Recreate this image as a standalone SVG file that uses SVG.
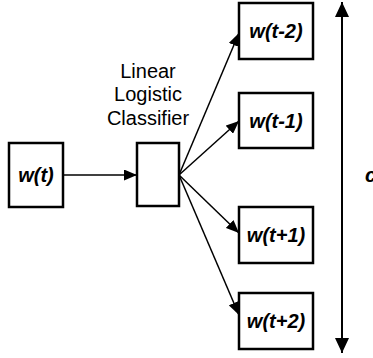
<svg xmlns="http://www.w3.org/2000/svg" width="373" height="358" viewBox="0 0 373 358">
<style>
.box{fill:#fff;stroke:#000;stroke-width:2.5}
.lbl{font-family:"Liberation Sans",Arial,sans-serif;font-weight:bold;font-style:italic;font-size:20px;text-anchor:middle}
.cap{font-family:"Liberation Sans",Arial,sans-serif;font-size:20px;text-anchor:middle}
.edge{stroke:#000;stroke-width:1.5;fill:none}
</style>
<defs>
<marker id="ah" viewBox="0 0 13 11" refX="13" refY="5.5" markerWidth="13" markerHeight="11" markerUnits="userSpaceOnUse" orient="auto">
<path d="M0,0 L13,5.5 L0,11 Z" fill="#000"/>
</marker>
<marker id="bh" viewBox="0 0 15 14" refX="15" refY="7" markerWidth="15" markerHeight="14" markerUnits="userSpaceOnUse" orient="auto">
<path d="M0,0 L15,7 L0,14 Z" fill="#000"/>
</marker>
</defs>
<g id="connectors">
<line class="edge" x1="63" y1="175" x2="137" y2="175" marker-end="url(#ah)"/>
<line class="edge" x1="179" y1="175" x2="239" y2="33" marker-end="url(#ah)"/>
<line class="edge" x1="179" y1="175" x2="239" y2="121" marker-end="url(#ah)"/>
<line class="edge" x1="179" y1="175" x2="239" y2="233" marker-end="url(#ah)"/>
<line class="edge" x1="179" y1="175" x2="239" y2="315" marker-end="url(#ah)"/>
<line x1="342" y1="178" x2="342" y2="2" stroke="#000" stroke-width="2" marker-end="url(#bh)"/>
<line x1="342" y1="178" x2="342" y2="353" stroke="#000" stroke-width="2" marker-end="url(#bh)"/>
</g>
<g id="wt">
<rect class="box" x="9" y="143" width="54" height="64"/>
<text class="lbl" x="36" y="182">w(t)</text>
</g>
<g id="classifier">
<rect class="box" x="137" y="143" width="42" height="63"/>
<text class="cap" x="148" y="78">Linear</text>
<text class="cap" x="148" y="101">Logistic</text>
<text class="cap" x="148" y="125">Classifier</text>
</g>
<g id="wtm2">
<rect class="box" x="239" y="3" width="74" height="56"/>
<text class="lbl" x="276" y="38">w(t-2)</text>
</g>
<g id="wtm1">
<rect class="box" x="239" y="93" width="74" height="55"/>
<text class="lbl" x="276" y="128">w(t-1)</text>
</g>
<g id="wtp1">
<rect class="box" x="239" y="207" width="74" height="56"/>
<text class="lbl" x="276" y="242">w(t+1)</text>
</g>
<g id="wtp2">
<rect class="box" x="239" y="293" width="74" height="56"/>
<text class="lbl" x="276" y="328">w(t+2)</text>
</g>
<g id="window">
<text x="365" y="182" style="font-family:'Liberation Sans',Arial,sans-serif;font-weight:bold;font-style:italic;font-size:20px">c</text>
</g>
</svg>
